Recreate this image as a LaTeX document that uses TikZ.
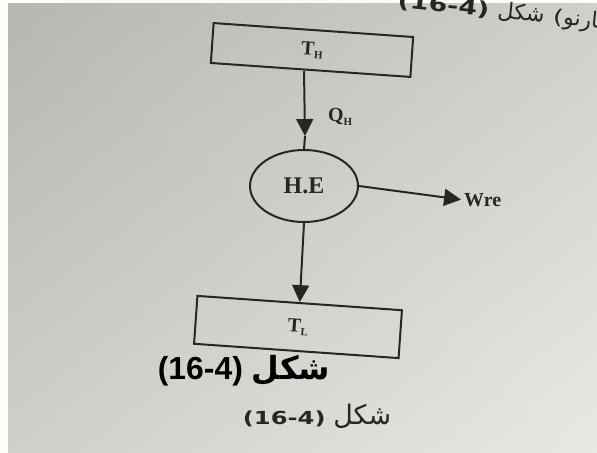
\documentclass[tikz,border=0pt]{standalone}
\usepackage{fontspec}
\setmainfont{Liberation Serif}
\newfontfamily\arfont[Script=Arabic]{DejaVu Sans}
\newfontfamily\capfont[FakeStretch=1.35]{DejaVu Sans}
\newfontfamily\bigcapfont{Liberation Sans}
\TeXXeTstate=1
\usetikzlibrary{arrows.meta,positioning,shapes.geometric}
\definecolor{paperdk}{RGB}{184,182,176}
\definecolor{paperlt}{RGB}{232,233,229}
\definecolor{inkclr}{RGB}{38,38,38}
\newcommand{\lowidx}[1]{\raisebox{-0.35ex}{\fontsize{11}{12}\selectfont #1}}
\tikzset{
  tblk/.style={rectangle,draw=inkclr,line width=2pt,
    minimum width=200bp,minimum height=40bp,rotate=-4,
    font=\fontsize{20}{22}\selectfont\bfseries,text=inkclr,inner sep=0pt},
  heblk/.style={ellipse,draw=inkclr,line width=2pt,
    minimum width=108bp,minimum height=72bp,
    font=\fontsize{24}{26}\selectfont\bfseries,text=inkclr,inner sep=0pt},
  lbl/.style={font=\fontsize{20}{22}\selectfont\bfseries,text=inkclr,inner sep=0pt},
  arr/.style={-{Triangle[width=17pt,length=17pt]},line width=2pt,color=inkclr},
  ln/.style={line width=2pt,color=inkclr},
  captxt/.style={inner sep=0pt,text=inkclr},
}
\begin{document}
\begin{tikzpicture}[x=1bp,y=-1bp]

  %% paper
  \useasboundingbox (0,0) rectangle (597,453);
  \clip (0,0) rectangle (597,453);
  \shade[top color=paperdk,bottom color=paperlt] (0,0) rectangle (597,453);
  \shade[left color=paperdk,right color=paperlt,opacity=0.5] (0,0) rectangle (597,453);
  \fill[white!90!paperlt] (0,0) rectangle (597,3);
  \fill[white!90!paperlt] (0,0) rectangle (8,453);

  %% blocks
  \node[tblk] (th) at (312,50) {T\lowidx{H}};
  \node[heblk] (he) at (304,186) {H.E};
  \node[tblk,minimum width=205bp,minimum height=48bp] (tl) at (298,327) {T\lowidx{L}};
  \coordinate (qtip) at (305,136);
  \node[lbl,anchor=west] (qh) at (328,117) {Q\lowidx{H}};
  \node[lbl,anchor=west] (wre) at (464,200) {Wre};

  %% arrows
  \draw[arr] (th.south -| he.north) -- (qtip);
  \draw[ln] (qtip) -- (he.north);
  \draw[arr,shorten >=3pt] (he.east) -- (wre.west);
  \draw[arr] (he.south) -- (tl.north);

  %% captions
  \node[captxt,anchor=base west,rotate=-6] (captop) at (397,7)
    {\capfont\fontsize{20}{22}\selectfont\textbf{(16-4)}
     {\fontsize{22}{24}\arfont\beginR شكل\endR} ({\fontsize{22}{24}\arfont\beginR كارنو\endR}};
  \node[captxt,text=black,anchor=base] (capbig) at (244,379)
    {\bigcapfont\bfseries\fontsize{32}{36}\selectfont (16-4) {\arfont\bfseries\beginR شكل\endR}};
  \node[captxt,anchor=base] (capsmall) at (317,424)
    {\capfont\fontsize{18}{20}\selectfont\textbf{(16-4)} {\fontsize{27}{29}\arfont\beginR شكل\endR}};

\end{tikzpicture}
\end{document}
